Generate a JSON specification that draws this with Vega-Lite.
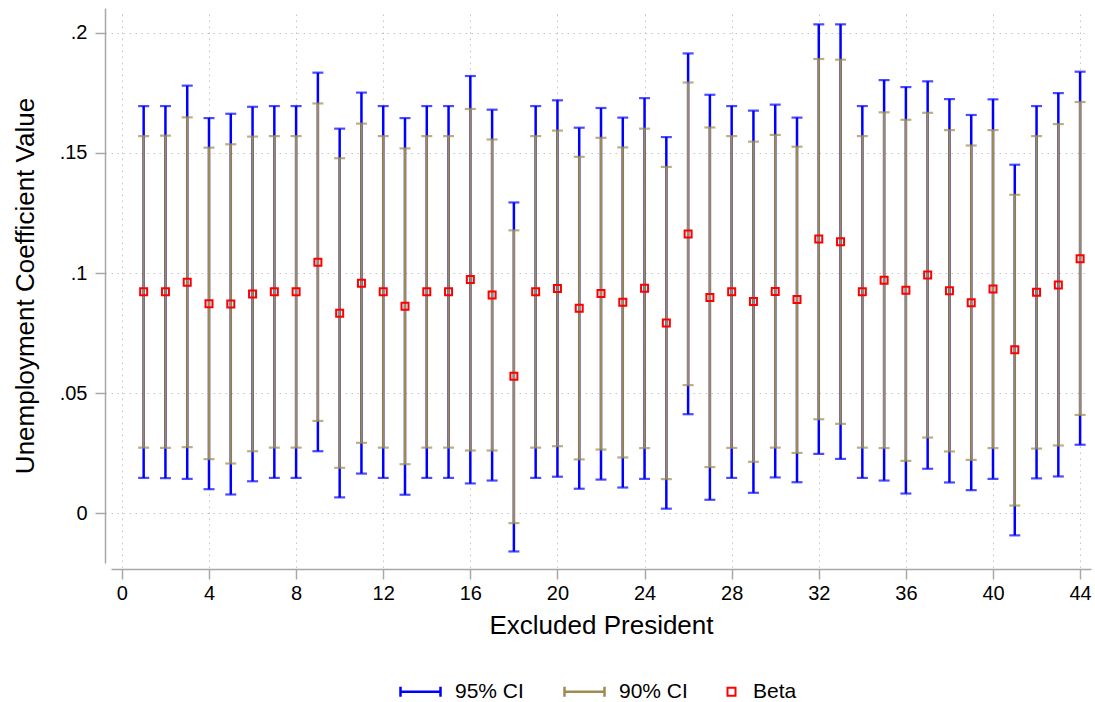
{
  "$schema": "https://vega.github.io/schema/vega-lite/v6.json",
  "width": 980,
  "height": 555,
  "autosize": {"type": "none"},
  "padding": {"left": 111, "top": 8, "right": 4, "bottom": 139},
  "background": "white",
  "config": {
    "view": {"stroke": null},
    "font": "Liberation Sans",
    "axis": {
      "domainColor": "#a8a8a8",
      "domainWidth": 1.5,
      "tickColor": "#a8a8a8",
      "tickWidth": 1.5,
      "tickSize": 10,
      "labelFont": "Liberation Sans",
      "labelFontSize": 20,
      "labelColor": "black",
      "titleFont": "Liberation Sans",
      "titleFontSize": 26,
      "titleFontWeight": "normal",
      "titleColor": "black",
      "gridColor": "#c4c4c4",
      "gridDash": [1.5, 4.5],
      "gridWidth": 1,
      "offset": 6
    },
    "legend": {
      "labelFont": "Liberation Sans",
      "labelFontSize": 21,
      "labelColor": "black"
    }
  },
  "data": {
    "values": [
      {"president": 1, "beta": 0.0923, "lo95": 0.0148, "hi95": 0.1695, "lo90": 0.0274, "hi90": 0.1570},
      {"president": 2, "beta": 0.0923, "lo95": 0.0147, "hi95": 0.1695, "lo90": 0.0273, "hi90": 0.1572},
      {"president": 3, "beta": 0.0962, "lo95": 0.0144, "hi95": 0.1780, "lo90": 0.0276, "hi90": 0.1648},
      {"president": 4, "beta": 0.0873, "lo95": 0.0101, "hi95": 0.1645, "lo90": 0.0226, "hi90": 0.1522},
      {"president": 5, "beta": 0.0872, "lo95": 0.0079, "hi95": 0.1663, "lo90": 0.0208, "hi90": 0.1536},
      {"president": 6, "beta": 0.0913, "lo95": 0.0134, "hi95": 0.1692, "lo90": 0.0259, "hi90": 0.1568},
      {"president": 7, "beta": 0.0923, "lo95": 0.0148, "hi95": 0.1695, "lo90": 0.0274, "hi90": 0.1570},
      {"president": 8, "beta": 0.0923, "lo95": 0.0148, "hi95": 0.1695, "lo90": 0.0274, "hi90": 0.1570},
      {"president": 9, "beta": 0.1045, "lo95": 0.0259, "hi95": 0.1834, "lo90": 0.0385, "hi90": 0.1706},
      {"president": 10, "beta": 0.0833, "lo95": 0.0067, "hi95": 0.1601, "lo90": 0.0190, "hi90": 0.1478},
      {"president": 11, "beta": 0.0958, "lo95": 0.0166, "hi95": 0.1751, "lo90": 0.0294, "hi90": 0.1622},
      {"president": 12, "beta": 0.0923, "lo95": 0.0148, "hi95": 0.1695, "lo90": 0.0274, "hi90": 0.1570},
      {"president": 13, "beta": 0.0862, "lo95": 0.0078, "hi95": 0.1645, "lo90": 0.0205, "hi90": 0.1519},
      {"president": 14, "beta": 0.0923, "lo95": 0.0148, "hi95": 0.1695, "lo90": 0.0274, "hi90": 0.1570},
      {"president": 15, "beta": 0.0923, "lo95": 0.0148, "hi95": 0.1695, "lo90": 0.0274, "hi90": 0.1570},
      {"president": 16, "beta": 0.0973, "lo95": 0.0125, "hi95": 0.1820, "lo90": 0.0262, "hi90": 0.1683},
      {"president": 17, "beta": 0.0909, "lo95": 0.0137, "hi95": 0.1680, "lo90": 0.0262, "hi90": 0.1556},
      {"president": 18, "beta": 0.0571, "lo95": -0.0158, "hi95": 0.1294, "lo90": -0.0040, "hi90": 0.1178},
      {"president": 19, "beta": 0.0923, "lo95": 0.0148, "hi95": 0.1695, "lo90": 0.0274, "hi90": 0.1570},
      {"president": 20, "beta": 0.0936, "lo95": 0.0153, "hi95": 0.1719, "lo90": 0.0280, "hi90": 0.1593},
      {"president": 21, "beta": 0.0854, "lo95": 0.0103, "hi95": 0.1605, "lo90": 0.0225, "hi90": 0.1484},
      {"president": 22, "beta": 0.0915, "lo95": 0.0141, "hi95": 0.1687, "lo90": 0.0266, "hi90": 0.1563},
      {"president": 23, "beta": 0.0879, "lo95": 0.0108, "hi95": 0.1647, "lo90": 0.0233, "hi90": 0.1523},
      {"president": 24, "beta": 0.0937, "lo95": 0.0144, "hi95": 0.1728, "lo90": 0.0272, "hi90": 0.1601},
      {"president": 25, "beta": 0.0793, "lo95": 0.0020, "hi95": 0.1566, "lo90": 0.0143, "hi90": 0.1442},
      {"president": 26, "beta": 0.1163, "lo95": 0.0413, "hi95": 0.1914, "lo90": 0.0534, "hi90": 0.1793},
      {"president": 27, "beta": 0.0899, "lo95": 0.0057, "hi95": 0.1742, "lo90": 0.0193, "hi90": 0.1606},
      {"president": 28, "beta": 0.0923, "lo95": 0.0148, "hi95": 0.1695, "lo90": 0.0273, "hi90": 0.1570},
      {"president": 29, "beta": 0.0882, "lo95": 0.0086, "hi95": 0.1676, "lo90": 0.0215, "hi90": 0.1547},
      {"president": 30, "beta": 0.0924, "lo95": 0.0150, "hi95": 0.1701, "lo90": 0.0274, "hi90": 0.1575},
      {"president": 31, "beta": 0.0890, "lo95": 0.0130, "hi95": 0.1647, "lo90": 0.0252, "hi90": 0.1526},
      {"president": 32, "beta": 0.1142, "lo95": 0.0248, "hi95": 0.2035, "lo90": 0.0392, "hi90": 0.1891},
      {"president": 33, "beta": 0.1131, "lo95": 0.0227, "hi95": 0.2035, "lo90": 0.0373, "hi90": 0.1888},
      {"president": 34, "beta": 0.0923, "lo95": 0.0148, "hi95": 0.1695, "lo90": 0.0274, "hi90": 0.1570},
      {"president": 35, "beta": 0.0970, "lo95": 0.0137, "hi95": 0.1803, "lo90": 0.0272, "hi90": 0.1669},
      {"president": 36, "beta": 0.0929, "lo95": 0.0083, "hi95": 0.1774, "lo90": 0.0219, "hi90": 0.1638},
      {"president": 37, "beta": 0.0992, "lo95": 0.0186, "hi95": 0.1798, "lo90": 0.0316, "hi90": 0.1667},
      {"president": 38, "beta": 0.0927, "lo95": 0.0129, "hi95": 0.1724, "lo90": 0.0258, "hi90": 0.1595},
      {"president": 39, "beta": 0.0877, "lo95": 0.0097, "hi95": 0.1658, "lo90": 0.0223, "hi90": 0.1531},
      {"president": 40, "beta": 0.0934, "lo95": 0.0144, "hi95": 0.1723, "lo90": 0.0272, "hi90": 0.1595},
      {"president": 41, "beta": 0.0681, "lo95": -0.0091, "hi95": 0.1451, "lo90": 0.0033, "hi90": 0.1326},
      {"president": 42, "beta": 0.0920, "lo95": 0.0146, "hi95": 0.1695, "lo90": 0.0270, "hi90": 0.1570},
      {"president": 43, "beta": 0.0951, "lo95": 0.0154, "hi95": 0.1749, "lo90": 0.0283, "hi90": 0.1620},
      {"president": 44, "beta": 0.1060, "lo95": 0.0286, "hi95": 0.1838, "lo90": 0.0410, "hi90": 0.1712}
    ]
  },
  "encoding": {
    "x": {
      "field": "president",
      "type": "quantitative",
      "scale": {"domain": [-0.5, 44.5], "nice": false, "zero": false},
      "axis": {
        "title": "Excluded President",
        "values": [0, 4, 8, 12, 16, 20, 24, 28, 32, 36, 40, 44],
        "grid": true,
        "labelPadding": 4,
        "titlePadding": 9
      }
    }
  },
  "layer": [
    {
      "mark": {"type": "rule", "strokeWidth": 2.5},
      "encoding": {
        "y": {
          "field": "lo95",
          "type": "quantitative",
          "scale": {"domain": [-0.0206, 0.2103], "nice": false, "zero": false},
          "axis": {
            "title": "Unemployment Coefficient Value",
            "values": [0, 0.05, 0.1, 0.15, 0.2],
            "labelExpr": "datum.value == 0 ? '0' : replace(format(datum.value, '.2~f'), '0.', '.')",
            "grid": true,
            "labelPadding": 8,
            "titlePadding": 21
          }
        },
        "y2": {"field": "hi95"},
        "color": {
          "datum": "95% CI",
          "type": "nominal",
          "scale": {"domain": ["95% CI", "90% CI", "Beta"], "range": ["#0000ff", "#9d8b4f", "#ff0000"]},
          "legend": {
            "title": null,
            "orient": "none",
            "direction": "horizontal",
            "legendX": 299,
            "legendY": 673,
            "padding": 0,
            "symbolSize": 1600,
            "labelOffset": 24,
            "columnPadding": 35,
            "labelLimit": 300,
            "encode": {
              "symbols": {
                "update": {
                  "shape": {"signal": "datum.value === 'Beta' ? 'M-0.75,-0.2H-0.35V0.2H-0.75Z' : 'M-1,0H1M-1,-0.25V0.25M1,-0.25V0.25'"},
                  "size": {"value": 1600},
                  "fill": {"value": "transparent"},
                  "fillOpacity": {"value": 0},
                  "stroke": {"signal": "datum.value === 'Beta' ? '#ff0000' : (datum.value === '90% CI' ? '#9d8b4f' : '#0000ff')"},
                  "strokeWidth": {"signal": "datum.value === 'Beta' ? 2 : 2.5"}
                }
              },
              "labels": {
                "update": {
                  "dx": {"signal": "datum.value === 'Beta' ? -24 : 0"}
                }
              }
            }
          }
        }
      }
    },
    {
      "mark": {"type": "tick", "orient": "horizontal", "size": 11, "thickness": 2.2},
      "encoding": {
        "y": {"field": "lo95", "type": "quantitative"},
        "color": {"datum": "95% CI", "type": "nominal"}
      }
    },
    {
      "mark": {"type": "tick", "orient": "horizontal", "size": 11, "thickness": 2.2},
      "encoding": {
        "y": {"field": "hi95", "type": "quantitative"},
        "color": {"datum": "95% CI", "type": "nominal"}
      }
    },
    {
      "mark": {"type": "rule", "strokeWidth": 2.2},
      "encoding": {
        "y": {"field": "lo90", "type": "quantitative"},
        "y2": {"field": "hi90"},
        "color": {"datum": "90% CI", "type": "nominal"}
      }
    },
    {
      "mark": {"type": "tick", "orient": "horizontal", "size": 11, "thickness": 2.2},
      "encoding": {
        "y": {"field": "lo90", "type": "quantitative"},
        "color": {"datum": "90% CI", "type": "nominal"}
      }
    },
    {
      "mark": {"type": "tick", "orient": "horizontal", "size": 11, "thickness": 2.2},
      "encoding": {
        "y": {"field": "hi90", "type": "quantitative"},
        "color": {"datum": "90% CI", "type": "nominal"}
      }
    },
    {
      "mark": {"type": "point", "shape": "square", "filled": false, "size": 49, "strokeWidth": 2, "opacity": 1},
      "encoding": {
        "y": {"field": "beta", "type": "quantitative"},
        "color": {"datum": "Beta", "type": "nominal"}
      }
    }
  ]
}
